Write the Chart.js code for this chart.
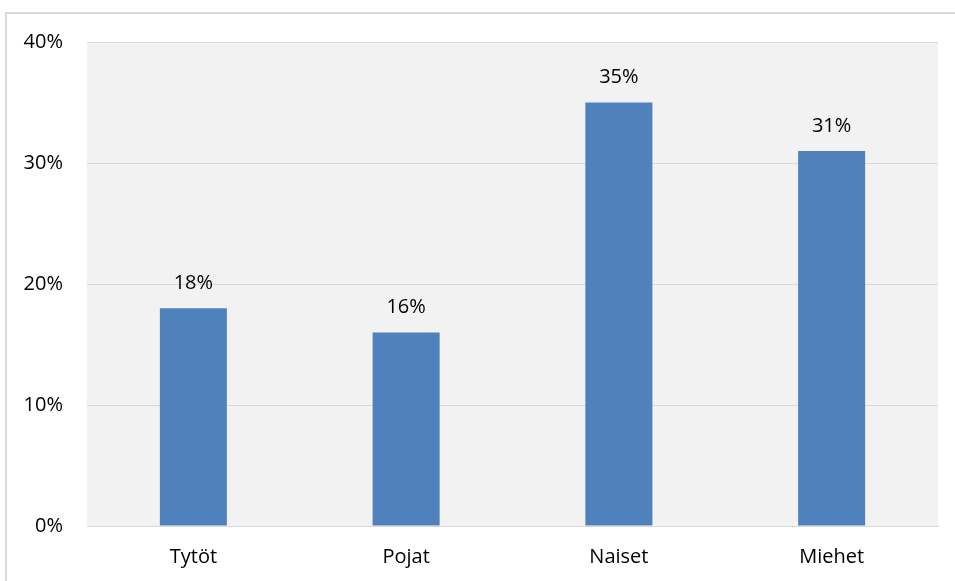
<!DOCTYPE html>
<html>
<head>
<meta charset="utf-8">
<script src="https://cdn.jsdelivr.net/npm/chart.js@4.4.1/dist/chart.umd.min.js"></script>
<style>
  html, body { margin: 0; padding: 0; background: #fff; overflow: hidden; }
  #wrap { position: relative; width: 955px; height: 581px; }
  #frame { position: absolute; left: 5px; top: 12px; width: 960px; height: 600px;
           border: 2px solid #d9d9d9; box-sizing: border-box; }
  canvas { position: absolute; left: 0; top: 0; }
</style>
</head>
<body>
<div id="wrap">
  <div id="frame"></div>
  <canvas id="chart" width="955" height="581"></canvas>
</div>
<script>
const categories = ['Tytöt', 'Pojat', 'Naiset', 'Miehet'];
const shares = [18, 16, 35, 31];
const yTicks = [0, 10, 20, 30, 40];

const FONT = { family: "'Open Sans', sans-serif", size: 20 };

// harmaa tausta piirtoalueelle
const plotBg = {
  id: 'plotBg',
  beforeDraw(chart) {
    const { ctx, chartArea: a } = chart;
    ctx.save();
    ctx.fillStyle = '#f2f2f2';
    ctx.fillRect(a.left, a.top, a.right - a.left, a.bottom - a.top);
    ctx.restore();
  }
};

// prosenttiarvot pylväiden yläpuolelle
const valueLabels = {
  id: 'valueLabels',
  afterDatasetsDraw(chart) {
    const { ctx } = chart;
    const meta = chart.getDatasetMeta(0);
    ctx.save();
    ctx.font = `${FONT.size}px ${FONT.family}`;
    ctx.fillStyle = '#000';
    ctx.textAlign = 'center';
    ctx.textBaseline = 'middle';
    meta.data.forEach((bar, i) => {
      ctx.fillText(shares[i] + '%', bar.x, bar.y - 25);
    });
    ctx.restore();
  }
};

new Chart(document.getElementById('chart'), {
  type: 'bar',
  data: {
    labels: categories,
    datasets: [{
      data: shares,
      backgroundColor: '#4f81bd',
      categoryPercentage: 1,
      barPercentage: 0.315
    }]
  },
  options: {
    responsive: false,
    animation: false,
    layout: { padding: { left: 0, right: 17, top: 42, bottom: 0 } },
    plugins: { legend: { display: false }, tooltip: { enabled: false } },
    scales: {
      x: {
        grid: { display: false, drawTicks: false },
        border: { display: true, color: '#d9d9d9', width: 1 },
        ticks: { color: '#000', font: FONT, padding: 19 },
        afterFit(s) { s.height = 55; }
      },
      y: {
        min: 0,
        max: 40,
        afterBuildTicks(s) { s.ticks = yTicks.map(v => ({ value: v })); },
        grid: { color: '#d9d9d9', drawTicks: false },
        border: { display: false },
        ticks: { color: '#000', font: FONT, padding: 24, callback: v => v + '%' },
        afterFit(s) { s.width = 87; }
      }
    }
  },
  plugins: [plotBg, valueLabels]
});
</script>
</body>
</html>
